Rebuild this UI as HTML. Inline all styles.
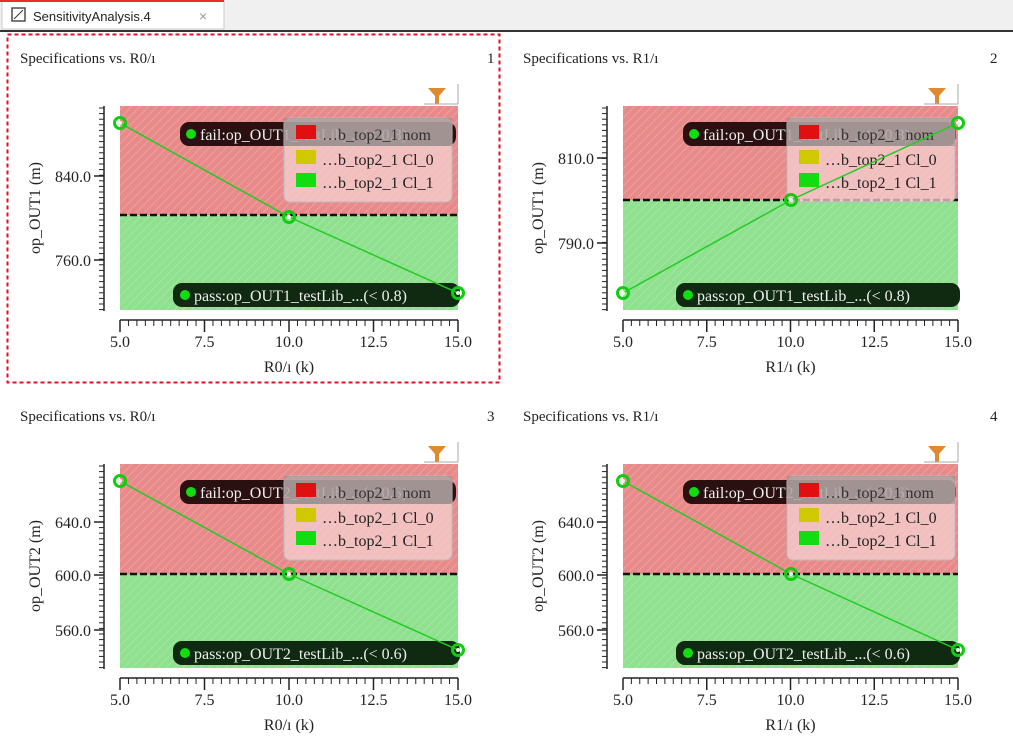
<!DOCTYPE html>
<html><head><meta charset="utf-8"><style>
body{margin:0;width:1013px;height:753px;background:#fff;overflow:hidden;font-family:"Liberation Serif",serif}
svg{position:absolute;left:0;top:0}
</style></head><body>
<svg id="s" width="1013" height="753" xmlns="http://www.w3.org/2000/svg">
<defs>
<pattern id="h" width="6" height="6" patternUnits="userSpaceOnUse" patternTransform="rotate(45)">
<line x1="0" y1="0" x2="0" y2="6" stroke="#ffffff" stroke-opacity="0.25" stroke-width="1.5"/></pattern>
</defs>
<rect x="0" y="0" width="1013" height="30" fill="#f0f0f0"/>
<rect x="2" y="0" width="222" height="29" fill="#fff" stroke="#ccc"/>
<rect x="0" y="0" width="224" height="2" fill="#e03030"/>
<rect x="12" y="8" width="13" height="13" fill="none" stroke="#333" stroke-width="1.3"/>
<line x1="14" y1="19" x2="23" y2="10" stroke="#333"/>
<text x="33" y="21" font-family="Liberation Sans,sans-serif" font-size="13" fill="#222">SensitivityAnalysis.4</text>
<text x="199" y="21" font-family="Liberation Sans,sans-serif" font-size="14" fill="#999">×</text>
<line x1="0" y1="31" x2="1013" y2="31" stroke="#333" stroke-width="2"/>
<rect x="7.5" y="34.5" width="492" height="348" fill="none" stroke="#e0102a" stroke-width="2" stroke-dasharray="4,3"/>
<g id="g"></g>
</svg>
<script>
const P=[
{dx:0,dy:0,t:"Specifications vs. R0/ı",n:"1",yl:"op_OUT1 (m)",xl:"R0/ı (k)",th:215,pts:[[120,123],[289,217],[458,293]],yt:[[176,"840.0"],[260,"760.0"]],f:"fail:op_OUT1_testLib_...(< 0.8)",p:"pass:op_OUT1_testLib_...(< 0.8)"},
{dx:503,dy:0,t:"Specifications vs. R1/ı",n:"2",yl:"op_OUT1 (m)",xl:"R1/ı (k)",th:200,pts:[[120,293],[288,200],[455,123]],yt:[[158,"810.0"],[243,"790.0"]],f:"fail:op_OUT1_testLib_...(< 0.8)",p:"pass:op_OUT1_testLib_...(< 0.8)"},
{dx:0,dy:358,t:"Specifications vs. R0/ı",n:"3",yl:"op_OUT2 (m)",xl:"R0/ı (k)",th:216,pts:[[120,123],[289,216],[458,292]],yt:[[164,"640.0"],[217,"600.0"],[272,"560.0"]],f:"fail:op_OUT2_testLib_...(< 0.6)",p:"pass:op_OUT2_testLib_...(< 0.6)"},
{dx:503,dy:358,t:"Specifications vs. R1/ı",n:"4",yl:"op_OUT2 (m)",xl:"R1/ı (k)",th:216,pts:[[120,123],[288,216],[455,292]],yt:[[164,"640.0"],[217,"600.0"],[272,"560.0"]],f:"fail:op_OUT2_testLib_...(< 0.6)",p:"pass:op_OUT2_testLib_...(< 0.6)"}];
let o="";
for(const q of P){
 const X1=q.dx===0?458:455;
 o+=`<g transform="translate(${q.dx},${q.dy})">`;
 o+=`<text x="20" y="63" font-size="15" fill="#222">${q.t}</text><text x="487" y="63" font-size="15" fill="#222">${q.n}</text>`;
 o+=`<rect x="120" y="106" width="${X1-120}" height="${q.th-106}" fill="#e88a8a"/><rect x="120" y="${q.th}" width="${X1-120}" height="${310-q.th}" fill="#8fe08f"/>`;
 o+=`<rect x="120" y="106" width="${X1-120}" height="204" fill="url(#h)"/>`;
 o+=`<line x1="120" y1="${q.th}" x2="${X1}" y2="${q.th}" stroke="#111" stroke-width="2.5" stroke-dasharray="7,3"/>`;
 // filter icon
 o+=`<path d="M${X1-30} 88 h18 l-7 8 v8 h-4 v-8z" fill="#e08a30"/><line x1="${X1-34}" y1="104" x2="${X1}" y2="104" stroke="#aaa"/><line x1="${X1}" y1="84" x2="${X1}" y2="104" stroke="#aaa"/>`;
 // y axis
 o+=`<line x1="104" y1="106" x2="104" y2="311" stroke="#222" stroke-width="1.5"/>`;
 for(let y=108;y<=311;y+=5.6)o+=`<line x1="99" y1="${y}" x2="104" y2="${y}" stroke="#222"/>`;
 for(const [y,l] of q.yt)o+=`<line x1="94" y1="${y}" x2="104" y2="${y}" stroke="#222" stroke-width="1.5"/><text x="91" y="${y+6}" font-size="16" text-anchor="end" fill="#222">${l}</text>`;
 o+=`<text transform="translate(40,208) rotate(-90)" font-size="16" text-anchor="middle" fill="#222">${q.yl}</text>`;
 // x axis
 o+=`<line x1="120" y1="320" x2="${X1}" y2="320" stroke="#222" stroke-width="1.5"/>`;
 for(let i=0;i<=40;i++){const x=120+(X1-120)*i/40;const m=i%10==0;o+=`<line x1="${x}" y1="320" x2="${x}" y2="${m?332:326}" stroke="#222" stroke-width="${m?1.5:1}"/>`}
 ["5.0","7.5","10.0","12.5","15.0"].forEach((l,i)=>{o+=`<text x="${120+(X1-120)*i/4}" y="347" font-size="16" text-anchor="middle" fill="#222">${l}</text>`});
 o+=`<text x="${(120+X1)/2}" y="372" font-size="16" text-anchor="middle" fill="#222">${q.xl}</text>`;
 // fail label
 o+=`<rect x="180" y="122" width="${X1-182}" height="24" rx="9" fill="#2a1010"/><circle cx="191" cy="134" r="5" fill="#11dd11"/><text x="200" y="140" font-size="16" fill="#eee">${q.f}</text>`;
 // legend
 o+=`<rect x="284" y="118" width="168" height="84" rx="6" fill="#f6d0d0" fill-opacity="0.75" stroke="#bbb"/><rect x="284" y="118" width="168" height="28" fill="#888" fill-opacity="0.55"/>`;
 o+=`<rect x="296" y="125" width="20" height="14" fill="#e01010"/><text x="322" y="140" font-size="16" fill="#333">…b_top2_1 nom</text>`;
 o+=`<rect x="296" y="150" width="20" height="14" fill="#d0c800"/><text x="322" y="165" font-size="16" fill="#222">…b_top2_1 Cl_0</text>`;
 o+=`<rect x="296" y="173" width="20" height="14" fill="#11dd11"/><text x="322" y="188" font-size="16" fill="#222">…b_top2_1 Cl_1</text>`;
 // pass label
 o+=`<rect x="173" y="283" width="${X1-171}" height="24" rx="9" fill="#0f2a10"/><circle cx="185" cy="295" r="5" fill="#11dd11"/><text x="194" y="301" font-size="16" fill="#eee">${q.p}</text>`;
 // series
 o+=`<polyline points="${q.pts.map(p=>p.join(',')).join(' ')}" fill="none" stroke="#22cc22" stroke-width="1.5"/>`;
 for(const [x,y] of q.pts)o+=`<circle cx="${x}" cy="${y}" r="5.5" fill="none" stroke="#11cc11" stroke-width="3"/><circle cx="${x}" cy="${y}" r="2" fill="#dfffdf"/>`;
 o+=`</g>`;
}
document.getElementById("g").innerHTML=o;
</script>
</body></html>
